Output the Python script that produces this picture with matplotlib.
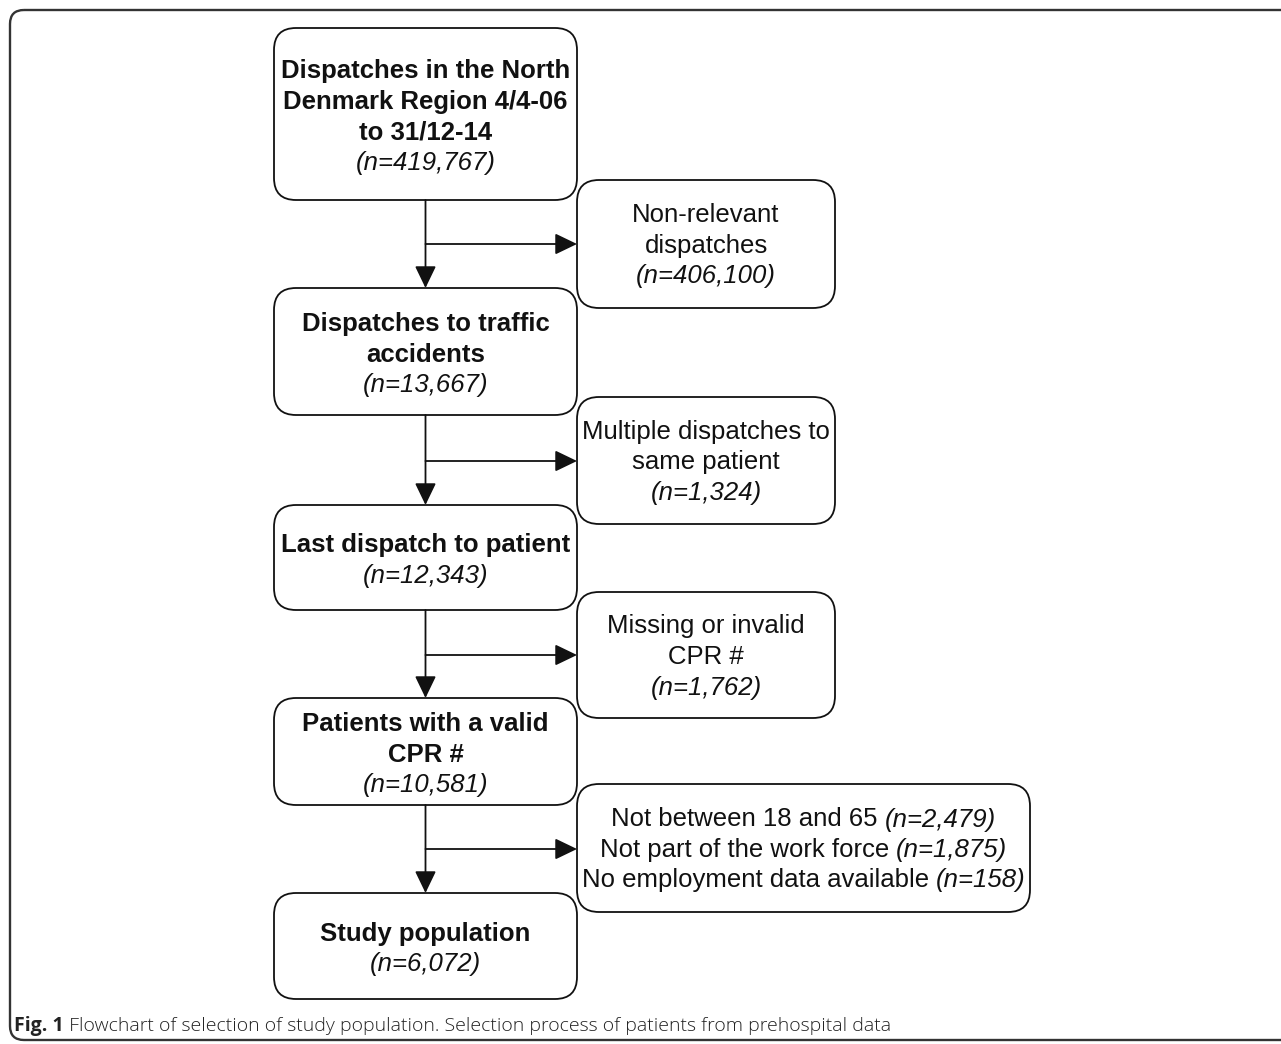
import matplotlib
matplotlib.use("Agg")
import matplotlib.pyplot as plt
from matplotlib.patches import FancyBboxPatch

# flowchart content
main_titles = [
    ["Dispatches in the North", "Denmark Region 4/4-06", "to 31/12-14"],
    ["Dispatches to traffic", "accidents"],
    ["Last dispatch to patient"],
    ["Patients with a valid", "CPR #"],
    ["Study population"],
]
main_n = ["419,767", "13,667", "12,343", "10,581", "6,072"]

excl_titles = [
    ["Non-relevant", "dispatches"],
    ["Multiple dispatches to", "same patient"],
    ["Missing or invalid", "CPR #"],
]
excl_n = ["406,100", "1,324", "1,762"]

last_reasons = ["Not between 18 and 65", "Not part of the work force",
                "No employment data available"]
last_n = ["2,479", "1,875", "158"]

caption_bold = "Fig. 1"
caption_text = " Flowchart of selection of study population. Selection process of patients from prehospital data"

W, H = 1281, 1044
fig = plt.figure(figsize=(W / 100, H / 100), dpi=100)
ax = fig.add_axes([0, 0, 1, 1])
ax.set_xlim(0, W)
ax.set_ylim(H, 0)
ax.axis("off")

FONT = "Liberation Sans"
FS = 18.5
LS = 30.5
lw = 1.3
ARROW = "-|>,head_length=1.35,head_width=0.65"

# outer frame
frame = FancyBboxPatch((10, 10), 1400, 1030, boxstyle="round,pad=0,rounding_size=14",
                       fc="none", ec="#333333", lw=1.7, clip_on=True)
ax.add_patch(frame)

def rbox(x0, y0, x1, y1):
    ax.add_patch(FancyBboxPatch((x0, y0), x1 - x0, y1 - y0,
                                boxstyle="round,pad=0,rounding_size=22",
                                fc="white", ec="#111111", lw=lw))

def lines_block(cx, cy, lines):
    # lines: list of (text, weight, style)
    n = len(lines)
    y = cy - (n - 1) * LS / 2
    for txt, wt, st in lines:
        ax.text(cx, y, txt, ha="center", va="center", fontsize=FS, family=FONT,
                weight=wt, style=st, color="#111111")
        y += LS

main_boxes = [(274, 28, 577, 200), (274, 288, 577, 415), (274, 505, 577, 610),
              (274, 698, 577, 805), (274, 893, 577, 999)]
excl_boxes = [(577, 180, 835, 308), (577, 397, 835, 524), (577, 592, 835, 718)]
last_box = (577, 784, 1030, 912)
arrow_y = [244, 461, 655, 849]
cx_main = 425.5

# arrows
for i in range(4):
    y_top = main_boxes[i][3]
    y_bot = main_boxes[i + 1][1]
    ax.annotate("", xy=(cx_main, y_bot), xytext=(cx_main, y_top),
                arrowprops=dict(arrowstyle=ARROW, color="#111111", lw=lw,
                                shrinkA=0, shrinkB=0))
    ax.annotate("", xy=(577, arrow_y[i]), xytext=(cx_main, arrow_y[i]),
                arrowprops=dict(arrowstyle=ARROW, color="#111111", lw=lw,
                                shrinkA=0, shrinkB=0))

for (x0, y0, x1, y1), title, n in zip(main_boxes, main_titles, main_n):
    rbox(x0, y0, x1, y1)
    lines = [(t, "bold", "normal") for t in title] + [("(n=%s)" % n, "normal", "italic")]
    lines_block((x0 + x1) / 2, (y0 + y1) / 2 + 3, lines)

for (x0, y0, x1, y1), title, n in zip(excl_boxes, excl_titles, excl_n):
    rbox(x0, y0, x1, y1)
    lines = [(t, "normal", "normal") for t in title] + [("(n=%s)" % n, "normal", "italic")]
    lines_block((x0 + x1) / 2, (y0 + y1) / 2 + 2, lines)

# last exclusion box with mixed styles on each line
rbox(*last_box)
fig.canvas.draw()
renderer = fig.canvas.get_renderer()
cx = (last_box[0] + last_box[2]) / 2
cy = (last_box[1] + last_box[3]) / 2 + 2
y = cy - LS
for reason, n in zip(last_reasons, last_n):
    t1 = ax.text(0, y, reason + " ", ha="left", va="center", fontsize=FS, family=FONT,
                 color="#111111")
    t2 = ax.text(0, y, "(n=%s)" % n, ha="left", va="center", fontsize=FS, family=FONT,
                 style="italic", color="#111111")
    w1 = t1.get_window_extent(renderer).width
    w2 = t2.get_window_extent(renderer).width
    x_start = cx - (w1 + w2) / 2
    t1.set_x(x_start)
    t2.set_x(x_start + w1)
    y += LS

# caption
c1 = ax.text(14, 1026, caption_bold, ha="left", va="center", fontsize=14,
             family="Open Sans", weight="bold", color="#222222")
w = c1.get_window_extent(renderer).width
ax.text(14 + w, 1026, caption_text, ha="left", va="center", fontsize=14,
        family="Open Sans", weight="light", color="#222222")

fig.savefig("out.png", dpi=100)
